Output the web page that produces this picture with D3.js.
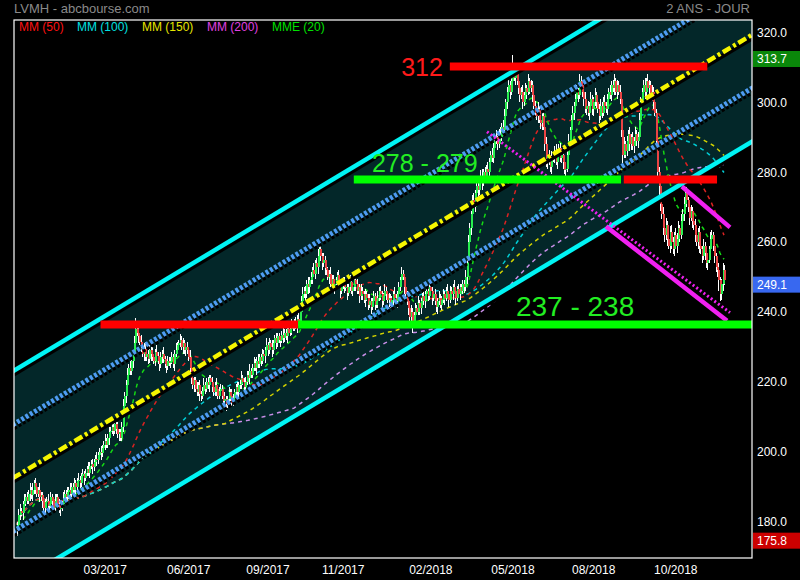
<!DOCTYPE html>
<html><head><meta charset="utf-8">
<script src="https://cdn.jsdelivr.net/npm/d3@7"></script>
<style>body{margin:0;background:#000}svg{display:block}text{font-family:Arial,"Liberation Sans",sans-serif}</style>
</head><body><svg id="c" width="800" height="580"></svg>
<script>
// ---- daily closes (2 years, trading days) ----
const closes = [
179,182,183,182.5,185,186,187,186,188,189,
187.5,189,191,190,188,189,187,187.5,186,184,
185.5,186,184.5,185,187,186,184,186,187,185,
183.5,184,185,186.5,188,187,188.5,189,188,190,
189,191,190,191.5,192,191,193,193.5,192.5,194,
195,194,196,196.5,195.5,197,198,197.5,199,200,
199.5,201,202,203,202,204,205.5,206,207,206,
208,206.5,205,205.5,204,207,213,216,219,222,
224,223,226,228,231,235,234,233,231.5,230,
228,229.5,227,228,226.5,229,228,227,226,228.5,
227.5,226,225,227,228,226.5,225,224.5,226,225.5,
226,227,225,228,229,230.5,231,232,230,231,
229,230,229,227,224,221,219,220.5,218,217,
219,216.5,216,217.5,219,218,220,219,221,220,
218.5,217,219,218,216,217.5,218,216,214.5,215,
213.5,215,217,216,214,215.5,217,218.5,217,219,
219.5,221,220,218.5,220,222,221,223,222,224,
225.5,224,226,225,227,226,228,227.5,229,230.5,
229,231,230,229,231,232.5,231,233,232,232,
233.5,232.5,234,233,235,234,235,236,235.5,237,
236,238,237,240,243,245,246,245,248,247,
249,250,252,251,254,253,256,258,256,254,
255,252.5,252,250,251,248,249.5,247,248,249,
250.5,248,246,247.5,249,247,247,245.5,247,248.5,
246,247,249,248,246,247,244.5,246,245,243.5,
245,244,242,243,241.5,243,244.5,242,243,244,
246,245,243,244.5,246,245,243.5,244,242,243.5,
245,244,243,245,247,249,251,250,247,245,
243,241,238.5,240,237,239,241,240,242.5,241,
243,244.5,243,245,246,244.5,247,246,244,245,
243,241.5,243,244,242,243.5,245,244,246,245,
243.5,246,245,247,246,244,246.5,245,247,246,
248,247,250,254,260,264,268,272,270,274,
276,275,278,279,277,280,279,281,280,283,
285,284,287,289,290,288,291,290,293,292,
296,300,303,305,303,306,309,307,308,306,
304,302,303,300,302,304,303,306,304,305,
302,299,297,296,298,295,294,296,293,288,
283,285,283,281.5,284,284,286,283,285,287,
284,285,283,280.5,281,285,289,292,295,297,
299,301,303,302,306,305,303,301,298,299,
297,299,301,298,300,302,300,298,296,299,
297,300,299,298,301,303,302,305,304,306,
303,305,303,301,292,285,288,286,289,291,
288,290,287.5,289,291,289,290,295,300,303,
305,303,306,304,305,302,303,300,297,289,
280,276,271,268,264,262,265,261,259,263,
260,258,262,259,261,264,262,266,268,271,
274,272,270,267,269,266,265,262,260,263,
259,258,256,259,257,254,255,258,261,262,
259,256,253,252,249,245,248,252,249.1
];
// upper wick above body top (price units)
const upWick = [
1,1.5,2,1,1,2,1,1.5,1,2, 1,2,1,1.5,1,1,2,1,1,1.5, 1,1,2,1,1.5,1,1,2,1,1, 1.5,1,1,2,1,1,1.5,1,2,1,
1,1.5,1,1,2,1,1,1.5,1,1, 1,2,1,1,1.5,1,1,2,1,1, 1.5,1,1,2,1,1,1.5,1,1,2, 1,1,2,1,1,1.5,2,1,1.5,2,
1,2,1.5,1,2,3.3,1,1.5,1,2, 1,1.5,2,1,1,1.5,1,2,1,1, 2,1,1,1.5,1,2,1,1,1.5,1, 1,1.5,1,1,2,1,1,1.8,1,1.5,
1,1,1.5,1,2,1,1.5,1,1,2, 1,1.5,1,1,2,1,1,1.5,1,1, 1.5,1,1,2,1,1,1.5,1,1,2, 1,1,1.5,1,2,1,1,1,1.5,1,
1,2,1,1,1.5,1,1,2,1,1, 1.5,1,1,2,1,1,1.5,1,1,2, 1,1.5,1,2,1,1,1.5,1,1,1, 1,2,1,1,1.5,1,1,2,1,1,
1.5,1,2,1,1.5,2,1,1.5,1,2, 1,1.5,1,2,1,1.5,2,1.5,1,1, 2,1,1.5,1,1,2,1,1,1.5,1, 1,1.5,1,2,1,1,1.5,1,1,2,
1,1,2,1,1.5,1,1,2,1,1, 1.5,1,1,2,1,1,1.5,1,1,2, 1,1.5,1,1,2,1,1,1.5,1,1, 1,2,1,1,1.5,1,2,1,1,1,
1,1.5,1,2,1,1,1.5,1,2,1, 1,1,2,1,1.5,1,1,2,1,1, 1.5,1,1,2,1,1,1.5,1,1,2, 1,1.5,1,1,2,1,1,1.5,1,1,
1,1,2,1,2,1.5,1,1.5,2,1, 1.5,2,1,1.5,2,1,1.5,1,2,1, 1,2,1.5,1,2,1,1.5,2,1,2, 2,1,1.5,2,1,1.5,4.7,2,1,1.5,
2,1,1.5,2,1,1.5,1,2,1,1.5, 1,2,1.5,1,2,1,1.5,1,2,1, 2,1,1.5,1,2,1,1.5,2,1,1, 1.5,1,2,1,1,1.5,2,1,1.5,2,
1,1.5,2,1,2,1.5,1,1.5,2,1, 1.5,1,2,1,1.5,2,1,1,1.5,2, 1,1.5,2,1,1.5,1,2,1,1.5,2, 1,1.5,1,2,2,1.5,2,1,1.5,1,
2,1,1.5,1,2,1,1.5,2,1.5,1, 1.5,2,1,2,1.5,1,2,1.5,2,1, 2,1.5,2,1,2,1.5,2,1,2,1.5, 2,1.5,1,2,1.5,2,1,2,1.5,2,
1.5,2,1,2,1.5,1,2,1.5,2,1, 1.5,2,1,2,1,1.5,2,1,2,1.5, 1,2,1,1.5,2,1,1.5,2,1.5
];
// lower wick below body bottom (price units)
const dnWick = [
3.2,1,1.5,1,2,1,1.5,1,1,2, 1,1.5,1,2,1,1,1.5,1,2,1, 1.5,1,1,2,1,1.5,1,1,2,1, 1,2,1,1,1.5,1,1,2,1,1,
1.5,1,2,1,1,1.5,1,1,2,1, 1,1,1.5,1,2,1,1,1.5,1,1, 2,1,1,1.5,1,1,2,1,1,1.5, 1,1.5,1,2,1,1,1.5,1,2,1,
1.5,1,1,2,1,1.5,1,2,1,1.5, 1,2,1,1,1.5,1,2,1,1,1.5, 1,1,2,1,1.5,1,1,2,1,1, 1.5,1,1,2,1,1,1.5,1,1,2,
1,1.5,1,1,2,1.5,1,2,1,1, 1,2,1.5,1,1,1.5,1,1,2,1, 1.5,1,1,2,1,1,1.5,1,2,1, 2,1,1,1.5,1,1,2,1,1,1.5,
1,1.5,1,1,2,1,1,1.5,1,1, 1,1,2,1,1,1.5,1,1,2,1, 1.5,1,1,2,1,1,1.5,1,1,2, 1,1.5,1,1,2,1,1,1.5,1,1,
1,2,1,1.5,1,2,1,1.5,1,2, 1.5,1,2,1,1.5,1,2,1,1.5,2, 1,2,1.5,1,2,1,1.5,1,2,1, 1.5,1,2,1,1,1.5,1,2,1,1,
1,1.5,1,2,1,1,2,1,1.5,1, 2,1,1.5,1,2,1,1,1.5,1,2, 1,1.5,2,1,1,1.5,1,2,1,1, 1.5,1,1,2,1,1,1.5,1,2,1.5,
1,2,1.5,1,3,1,1.5,1,1,2, 1.5,1,1,2,1,1.5,1,1,2,1, 1,1.5,2,1,1,1.5,1,2,1,1, 2,1,1,1.5,1,2,1,1,1.5,1,
1,1.5,1,2,1,1.5,2,1,2,1.5, 1,2,1.5,1,2,1,1.5,2,1,1.5, 2,1,1.5,2,1,1.5,1,2,1,1.5, 1,1.5,2,1,2,1,1.5,1,2,1,
1.5,2,1,2,1,1.5,2,1,1.5,1, 2,1,1.5,1,2,1,1.5,2,1,2, 1.5,2,1,1.5,2,1,1.5,1,2,1, 1,1.5,2,1,2,1,1.5,1,2,1,
2,1,1.5,2,1,1,1.5,2,1,1.5, 1,2,1,1.5,2,1,1.5,1,2,1, 1.5,1,2,1,1.5,2,1,1.5,1,2, 1,2,1,1.5,2,2.5,1,2,1.5,1,
2,1.5,1,2,1,1.5,2,1,1.5,1, 1,2,1.5,1,2,1,1.5,2,1,2, 2,2.5,2,1.5,2,2,1.5,2,1,2, 2,1.5,2,1,2,1.5,2,1,1.5,2,
1,2,1.5,2,1,2,1.5,2,1,2, 2,1.5,2,1,2,1.5,2,1,2,1.5, 1.5,2,1.5,2,3,2,1.5,2,1.5
];

// ---- axes ----
const yTicks = [180,200,220,240,260,280,300,320];
const xTickIdx = [63,123,180,234,297,356,414,473];
const xTickLabels = ["03/2017","06/2017","09/2017","11/2017","02/2018","05/2018","08/2018","10/2018"];

// ---- indicators ----
const maPeriods = [50,100,150,200];
const maColors = ["#dc2222","#00cdd4","#d2d200","#c88ee8"];
const emaPeriod = 20;
const emaColor = "#14d814";
const legendLabels = ["MM (50)","MM (100)","MM (150)","MM (200)","MME (20)"];
const legendColors = ["#ff1010","#00e0e0","#e6e600","#e040e0","#00e000"];
const legendX = [19,77,142,207,272];

// ---- regression channel (index, price) ----
const channelIdx = [-3, 530];
const channelMid = [192.4, 319.8];
const channelBands = [-30.6, -15.3, 0, 15.3, 30.6];

// ---- support / resistance levels ----
const levelPrice = [310.3, 277.9, 277.9, 236.4, 236.4];
const levelFrom  = [311, 242, 436, 60, 202];
const levelTo    = [496, 434, 503, 202, 530];
const levelColor = ["#ff0000","#00ff00","#ff0000","#ff0000","#00ff00"];
const noteText  = ["312","278 - 279","237 - 238"];
const noteIdx   = [291, 293, 401];
const notePrice = [307.6, 280.2, 238.7];
const noteSize  = [25, 25, 28];
const noteColor = ["#ff1a1a","#22ee22","#22ee22"];

// ---- descending trend lines (magenta) ----
const trendIdx   = [[337.7,512.3],[423.2,510.2],[477.8,512.3]];
const trendPrice = [[291.6,239.8],[264.5,237.5],[275.9,264.2]];
const trendDotted = [true,false,false];

// =============================================================
(function(){
const W=800,H=580, L=14,T=20,R=752,B=558;
const svg = d3.select("#c");
svg.append("rect").attr("width",W).attr("height",H).attr("fill","#000");

const N = closes.length;
const x = d3.scaleLinear().domain([0,N-1]).range([17,724]);
const y = d3.scaleLinear().domain([180,320]).range([521.5,32.5]);

const opens = closes.map((c,i)=> i===0 ? c : closes[i-1]);
const highs = closes.map((c,i)=> Math.max(opens[i],c) + (upWick[i] ?? 1));
const lows  = closes.map((c,i)=> Math.min(opens[i],c) - (dnWick[i] ?? 1));

svg.append("defs").append("clipPath").attr("id","clip")
  .append("rect").attr("x",L).attr("y",T).attr("width",R-L).attr("height",B-T);
const plot = svg.append("g").attr("clip-path","url(#clip)");

// channel fill
const chanPt = (k,off)=>[x(channelIdx[k]), y(channelMid[k]+off)];
const hiB = channelBands[channelBands.length-1], loB = channelBands[0];
plot.append("path")
  .attr("d", d3.line()([chanPt(0,hiB),chanPt(1,hiB),chanPt(1,loB),chanPt(0,loB)]) + "Z")
  .attr("fill","#032729");

// moving averages
const sma = p => closes.map((c,i)=> d3.mean(closes.slice(Math.max(0,i-p+1), i+1)));
let e = closes[0];
const ema = closes.map(c => (e = e + (c-e)*2/(emaPeriod+1)));
const line = d3.line().x((d,i)=>x(i)).y(d=>y(d));
const maG = plot.append("g");
maPeriods.map((p,k)=>({v:sma(p),c:maColors[k]})).reverse().concat([{v:ema,c:emaColor}])
  .forEach(m=>{
    maG.append("path").attr("d",line(m.v)).attr("fill","none")
      .attr("stroke",m.c).attr("stroke-width",1.5).attr("stroke-dasharray","4,4");
  });

// candles
const cg = plot.append("g").attr("shape-rendering","crispEdges");
cg.selectAll("line").data(closes).join("line")
  .attr("x1",(d,i)=>Math.round(x(i))+0.5).attr("x2",(d,i)=>Math.round(x(i))+0.5)
  .attr("y1",(d,i)=>y(highs[i])).attr("y2",(d,i)=>y(lows[i]))
  .attr("stroke","#fff").attr("stroke-width",1);
cg.selectAll("rect").data(closes).join("rect")
  .attr("x",(d,i)=>Math.round(x(i))-0.5).attr("width",2.6)
  .attr("y",(d,i)=>y(Math.max(opens[i],d)))
  .attr("height",(d,i)=>Math.max(1, y(Math.min(opens[i],d))-y(Math.max(opens[i],d))))
  .attr("fill",(d,i)=> d>=opens[i] ? "#28ee50" : "#ea4444");

// channel lines with shadow
const chanStyles = {outer:{c:"#00f4f4",w:4.5,da:null}, inner:{c:"#4e9cf2",w:5,da:"3,2"}, mid:{c:"#f6f600",w:4.5,da:"9,3,3,3"}};
channelBands.forEach(off=>{
  const s = off===0 ? chanStyles.mid : (Math.abs(off)>20 ? chanStyles.outer : chanStyles.inner);
  const d = d3.line()([chanPt(0,off),chanPt(1,off)]);
  plot.append("path").attr("d",d).attr("transform","translate(1,3)").attr("fill","none")
    .attr("stroke","#000").attr("stroke-width",s.w).attr("stroke-dasharray",off===0?null:s.da);
  plot.append("path").attr("d",d).attr("fill","none")
    .attr("stroke",s.c).attr("stroke-width",s.w).attr("stroke-dasharray",s.da);
});

// magenta trend lines
trendIdx.forEach((ti,k)=>{
  const d = d3.line()([[x(ti[0]),y(trendPrice[k][0])],[x(ti[1]),y(trendPrice[k][1])]]);
  plot.append("path").attr("d",d).attr("fill","none").attr("stroke","#f020f0")
    .attr("stroke-width",trendDotted[k]?3:4.5).attr("stroke-dasharray",trendDotted[k]?"2,2.5":null);
});

// horizontal levels
levelPrice.forEach((p,k)=>{
  plot.append("line").attr("x1",x(levelFrom[k])).attr("x2",x(levelTo[k]))
    .attr("y1",y(p)).attr("y2",y(p)).attr("stroke",levelColor[k]).attr("stroke-width",8);
});
noteText.forEach((t,k)=>{
  plot.append("text").attr("x",x(noteIdx[k])).attr("y",y(notePrice[k]))
    .attr("text-anchor","middle").attr("font-size",noteSize[k]).attr("fill",noteColor[k]).text(t);
});

// frame
svg.append("rect").attr("x",L).attr("y",T).attr("width",R-L).attr("height",B-T)
  .attr("fill","none").attr("stroke","#fff").attr("stroke-width",1.2);

// y axis
const ya = svg.append("g").attr("transform",`translate(${R},0)`)
  .call(d3.axisRight(y).tickValues(yTicks).tickFormat(d3.format(".1f")).tickSize(0).tickPadding(5));
ya.select(".domain").remove();
ya.selectAll("text").attr("fill","#fff").attr("font-size",12).attr("font-family",'Arial,"Liberation Sans",sans-serif');

// highlighted values
const marks = [{v:d3.max(highs),c:"#0a870a"},{v:closes[N-1],c:"#3868f0"},{v:d3.min(lows),c:"#cc0000"}];
marks.forEach(m=>{
  const cy = y(m.v)+4.5;
  svg.append("rect").attr("x",R+1).attr("y",cy-8).attr("width",W-R-1).attr("height",16).attr("fill",m.c);
  svg.append("text").attr("x",R+5).attr("y",cy).attr("dy","0.35em").attr("fill","#fff")
    .attr("font-size",12).text(d3.format(".1f")(m.v));
});

// x axis
const xa = svg.append("g").attr("transform",`translate(0,${B})`)
  .call(d3.axisBottom(x).tickValues(xTickIdx).tickFormat((d,i)=>xTickLabels[i]).tickSize(0).tickPadding(7));
xa.select(".domain").remove();
xa.selectAll("text").attr("fill","#fff").attr("font-size",12).attr("font-family",'Arial,"Liberation Sans",sans-serif');

// titles
svg.append("text").attr("x",14).attr("y",13).attr("fill","#8a8a8a").attr("font-size",13).text("LVMH - abcbourse.com");
svg.append("text").attr("x",750).attr("y",13).attr("text-anchor","end").attr("fill","#8a8a8a").attr("font-size",13).text("2 ANS - JOUR");

// legend
legendLabels.forEach((t,k)=>{
  svg.append("text").attr("x",legendX[k]).attr("y",31).attr("fill",legendColors[k]).attr("font-size",12).text(t);
});
})();
</script></body></html>
